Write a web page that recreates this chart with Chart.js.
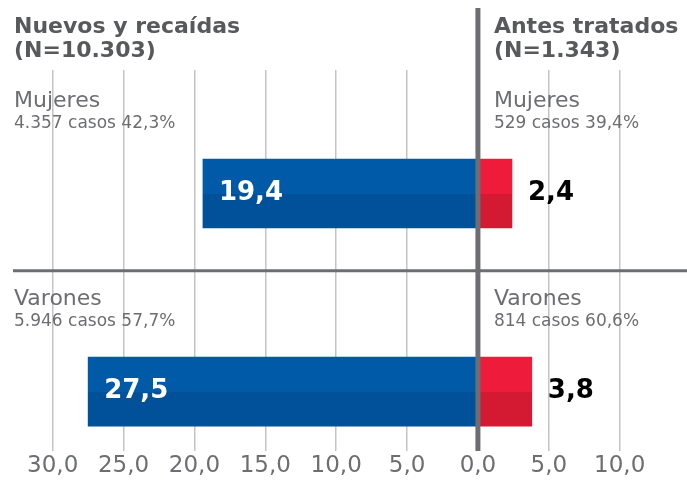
<!DOCTYPE html>
<html>
<head>
<meta charset="utf-8">
<script src="https://cdn.jsdelivr.net/npm/chart.js@4"></script>
<style>
  html, body { margin: 0; padding: 0; background: #ffffff; }
  #wrap { width: 687px; height: 482px; }
</style>
</head>
<body>
<div id="wrap"><canvas id="tbChart" width="687" height="482"></canvas></div>
<script>
// data
const categories = ['Mujeres', 'Varones'];
const groupNames = ['Nuevos y recaídas', 'Antes tratados'];
const groupTotals = ['10.303', '1.343'];
const nuevosValues = [19.4, 27.5];
const antesValues = [2.4, 3.8];
const nuevosCasos = ['4.357', '5.946'];
const nuevosShare = ['42,3', '57,7'];
const antesCasos = ['529', '814'];
const antesShare = ['39,4', '60,6'];

const FONT = "'DejaVu Sans', sans-serif";
const DARK = '#58595b';
const GREY = '#6d6e71';
const BAR_H = 69;

function fmt(v) {
    return Math.abs(v).toFixed(1).replace('.', ',');
}

function twoTone(top, bottom) {
    return (ctx) => {
        const chart = ctx.chart;
        if (!chart.chartArea) return top;
        const yc = chart.scales.y.getPixelForValue(ctx.dataIndex);
        const g = chart.ctx.createLinearGradient(0, yc - BAR_H / 2, 0, yc + BAR_H / 2);
        g.addColorStop(0, top);
        g.addColorStop(0.5, top);
        g.addColorStop(0.5, bottom);
        g.addColorStop(1, bottom);
        return g;
    };
}

const labelsPlugin = {
    id: 'labels',
    beforeDatasetsDraw(chart) {
        const ctx = chart.ctx;
        const x = chart.scales.x;
        const y = chart.scales.y;
        const leftX = chart.chartArea.left + 1;
        const rightX = x.getPixelForValue(0) + 16;
        ctx.save();
        ctx.textBaseline = 'alphabetic';
        ctx.textAlign = 'left';
        // group headings
        ctx.fillStyle = DARK;
        ctx.font = 'bold 22px ' + FONT;
        ctx.fillText(groupNames[0], leftX, 33);
        ctx.fillText('(N=' + groupTotals[0] + ')', leftX, 57);
        ctx.fillText(groupNames[1], rightX, 33);
        ctx.fillText('(N=' + groupTotals[1] + ')', rightX, 57);
        // category labels above each bar
        categories.forEach((c, i) => {
            const top = y.getPixelForValue(i) - BAR_H / 2;
            ctx.fillStyle = GREY;
            ctx.font = '22px ' + FONT;
            ctx.fillText(c, leftX, top - 52);
            ctx.fillText(c, rightX, top - 52);
            ctx.font = '17px ' + FONT;
            ctx.fillText(nuevosCasos[i] + ' casos ' + nuevosShare[i] + '%', leftX, top - 31);
            ctx.fillText(antesCasos[i] + ' casos ' + antesShare[i] + '%', rightX, top - 31);
        });
        ctx.restore();
    },
    afterDatasetsDraw(chart) {
        const ctx = chart.ctx;
        const x = chart.scales.x;
        const y = chart.scales.y;
        const area = chart.chartArea;
        ctx.save();
        // separator between the two categories
        const sep = y.getPixelForValue(0.39);
        ctx.strokeStyle = GREY;
        ctx.lineWidth = 3;
        ctx.beginPath();
        ctx.moveTo(area.left, sep);
        ctx.lineTo(area.right, sep);
        ctx.stroke();
        // zero line
        const x0 = x.getPixelForValue(0);
        ctx.lineWidth = 5;
        ctx.beginPath();
        ctx.moveTo(x0, 8);
        ctx.lineTo(x0, area.bottom);
        ctx.stroke();
        // value labels
        ctx.font = 'bold 26px ' + FONT;
        ctx.textBaseline = 'middle';
        ctx.textAlign = 'left';
        chart.getDatasetMeta(0).data.forEach((bar, i) => {
            ctx.fillStyle = '#ffffff';
            ctx.fillText(fmt(nuevosValues[i]), bar.x + 16, bar.y);
        });
        chart.getDatasetMeta(1).data.forEach((bar, i) => {
            ctx.fillStyle = '#000000';
            ctx.fillText(fmt(antesValues[i]), bar.x + 16, bar.y);
        });
        ctx.restore();
    }
};

new Chart(document.getElementById('tbChart').getContext('2d'), {
    type: 'bar',
    data: {
        datasets: [{
            label: groupNames[0],
            data: nuevosValues.map((v, i) => ({ x: -v, y: i })),
            backgroundColor: twoTone('#005aa8', '#00519a'),
            barThickness: BAR_H,
            grouped: false
        }, {
            label: groupNames[1],
            data: antesValues.map((v, i) => ({ x: v, y: i })),
            backgroundColor: twoTone('#ee1b3a', '#d41a32'),
            barThickness: BAR_H,
            grouped: false
        }]
    },
    options: {
        indexAxis: 'y',
        responsive: false,
        animation: false,
        layout: { padding: { top: 70, left: 13, right: 0, bottom: 0 } },
        plugins: { legend: { display: false }, tooltip: { enabled: false } },
        scales: {
            x: {
                type: 'linear',
                min: -32.8,
                max: 14.75,
                border: { display: false },
                grid: {
                    drawTicks: false,
                    lineWidth: 1.5,
                    color: (c) => (c.tick && c.tick.value === 0) ? 'rgba(0,0,0,0)' : '#c4c4c4'
                },
                ticks: {
                    stepSize: 5,
                    includeBounds: false,
                    padding: 4,
                    color: GREY,
                    font: { family: FONT, size: 23, lineHeight: 1 },
                    maxRotation: 0,
                    autoSkip: false,
                    callback: (v) => fmt(v)
                }
            },
            y: {
                type: 'linear',
                reverse: true,
                offset: false,
                min: -0.6237,
                max: 1.3,
                display: false
            }
        }
    },
    plugins: [labelsPlugin]
});
</script>
</body>
</html>
